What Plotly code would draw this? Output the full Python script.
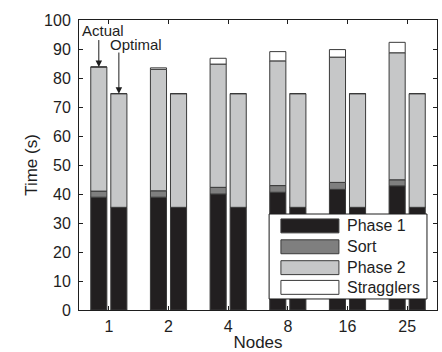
import plotly.graph_objects as go

nodes = ["1", "2", "4", "8", "16", "25"]

# Actual run (segment heights, seconds)
actual_phase1 = [38.9, 38.9, 40.0, 40.6, 41.6, 42.8]
actual_sort = [2.1, 2.2, 2.3, 2.3, 2.4, 2.1]
actual_phase2 = [42.8, 41.9, 42.5, 43.0, 43.2, 43.8]
actual_stragglers = [0.0, 0.5, 2.0, 3.2, 2.6, 3.6]

# Optimal (segment heights, seconds)
optimal_phase1 = [35.4, 35.4, 35.4, 35.4, 35.4, 35.4]
optimal_sort = [0.0, 0.0, 0.0, 0.0, 0.0, 0.0]
optimal_phase2 = [39.2, 39.2, 39.2, 39.2, 39.2, 39.2]
optimal_stragglers = [0.0, 0.0, 0.0, 0.0, 0.0, 0.0]

series_names = ["Phase 1", "Sort", "Phase 2", "Stragglers"]
series_colors = ["#221f20", "#7f7f7f", "#c6c7c8", "#ffffff"]
series_actual = [actual_phase1, actual_sort, actual_phase2, actual_stragglers]
series_optimal = [optimal_phase1, optimal_sort, optimal_phase2, optimal_stragglers]

FONT = "Liberation Sans, Arial, sans-serif"
INK = "#1e1e1e"
OUTLINE = "#3a3a3a"

idx = list(range(len(nodes)))
offset = 0.168
bar_w = 0.27
x_actual = [i - offset for i in idx]
x_optimal = [i + offset for i in idx]

fig = go.Figure()
for name, act, opt, col in zip(series_names, series_actual, series_optimal, series_colors):
    fig.add_trace(go.Bar(
        x=x_actual + x_optimal,
        y=act + opt,
        width=bar_w,
        name=name,
        showlegend=False,
        marker=dict(color=col, line=dict(color=OUTLINE, width=1)),
    ))

totals_actual = [sum(v) for v in zip(*series_actual)]
totals_optimal = [sum(v) for v in zip(*series_optimal)]

# "Actual" / "Optimal" callouts with arrows
fig.add_annotation(x=x_actual[0], y=totals_actual[0], ax=x_actual[0], ay=totals_actual[0] + 9.8,
                   axref="x", ayref="y", xref="x", yref="y", text="", showarrow=True,
                   arrowhead=2, arrowsize=1.3, arrowwidth=1, arrowcolor=INK)
fig.add_annotation(x=x_optimal[0], y=totals_optimal[0], ax=x_optimal[0], ay=totals_optimal[0] + 14.7,
                   axref="x", ayref="y", xref="x", yref="y", text="", showarrow=True,
                   arrowhead=2, arrowsize=1.3, arrowwidth=1, arrowcolor=INK)
fig.add_annotation(x=x_actual[0] + 0.07, y=totals_actual[0] + 12.5, xref="x", yref="y", text="Actual",
                   showarrow=False, xanchor="center", yanchor="middle",
                   font=dict(size=15, color=INK, family=FONT))
fig.add_annotation(x=x_optimal[0] + 0.28, y=totals_optimal[0] + 16.8, xref="x", yref="y", text="Optimal",
                   showarrow=False, xanchor="center", yanchor="middle",
                   font=dict(size=15, color=INK, family=FONT))

# Legend box (drawn to match the wide swatches of the original)
lx0, lx1, ly0, ly1 = 0.531, 0.972, 0.038, 0.331
fig.add_shape(type="rect", xref="paper", yref="paper", x0=lx0, x1=lx1, y0=ly0, y1=ly1,
              fillcolor="white", line=dict(color=INK, width=1), layer="above")
row_y = [0.290, 0.218, 0.146, 0.078]
for name, col, yc in zip(series_names, series_colors, row_y):
    fig.add_shape(type="rect", xref="paper", yref="paper", x0=0.564, x1=0.726,
                  y0=yc - 0.024, y1=yc + 0.024, fillcolor=col,
                  line=dict(color=OUTLINE, width=1), layer="above")
    fig.add_annotation(xref="paper", yref="paper", x=0.744, y=yc, text=name,
                       showarrow=False, xanchor="left", yanchor="middle",
                       font=dict(size=16, color=INK, family=FONT))

fig.update_layout(
    width=442, height=352,
    margin=dict(l=79, r=5, t=20, b=42),
    barmode="relative",
    plot_bgcolor="white", paper_bgcolor="white",
    font=dict(family=FONT, size=16, color=INK),
    showlegend=False,
    xaxis=dict(range=[-0.5, 5.5], tickvals=idx, ticktext=nodes,
               ticks="inside", ticklen=4, tickcolor=INK, ticklabelstandoff=2,
               showline=True, linecolor=INK, linewidth=1, mirror="allticks",
               showgrid=False, zeroline=False, automargin=False,
               title=dict(text="Nodes", font=dict(size=17), standoff=11)),
    yaxis=dict(range=[0, 100], dtick=10,
               ticks="inside", ticklen=4, tickcolor=INK, ticklabelstandoff=4,
               showline=True, linecolor=INK, linewidth=1, mirror="allticks",
               showgrid=False, zeroline=False, automargin=False,
               title=dict(text="Time (s)", font=dict(size=17), standoff=2)),
)

fig.write_html("out.html", config={"displayModeBar": False},
               post_script="document.body.style.margin='0';")
